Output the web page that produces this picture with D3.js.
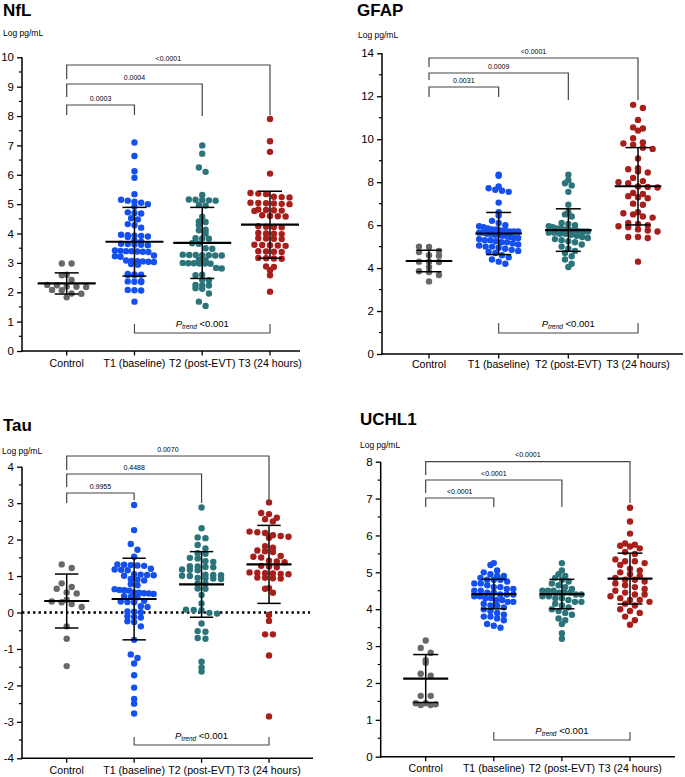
<!DOCTYPE html>
<html><head><meta charset="utf-8">
<script src="https://cdn.jsdelivr.net/npm/d3@7"></script>
<style>body{margin:0;background:#fff}svg{display:block}text{font-family:"Liberation Sans",Arial,Helvetica,sans-serif}</style>
</head><body>
<svg id="chart" width="685" height="777"></svg>
<script>
// ---------- DATA ----------
const categories = ["Control", "T1 (baseline)", "T2 (post-EVT)", "T3 (24 hours)"];
const groupColors = ["#686868", "#1450f0", "#2a747a", "#a81e1b"];

// NfL
const nflControl = [2.98, 2.98, 2.6, 2.58, 2.42, 2.25, 2.24, 2.2, 2.19, 2.18, 2.08, 2.07, 1.96, 1.95, 1.83];
const nflT1 = [7.1, 6.64, 6.12, 5.9, 5.34, 5.15, 5.12, 5.08, 5.05, 5.0, 4.92, 4.72, 4.7, 4.68, 4.52, 4.48, 4.32, 4.28, 4.2, 3.96, 3.94, 3.93, 3.92, 3.9, 3.88, 3.76, 3.72, 3.65, 3.64, 3.63, 3.62, 3.6, 3.42, 3.41, 3.4, 3.4, 3.39, 3.38, 3.37, 3.25, 3.23, 3.21, 3.08, 3.07, 3.06, 3.05, 3.04, 3.03, 2.96, 2.94, 2.62, 2.61, 2.6, 2.59, 2.58, 2.38, 2.37, 2.36, 2.35, 2.08, 2.07, 2.06, 1.68];
const nflT2 = [7.0, 6.72, 6.25, 6.1, 5.31, 5.16, 5.15, 5.14, 5.13, 5.12, 4.97, 4.95, 4.57, 4.41, 4.39, 4.29, 4.13, 4.11, 4.0, 3.84, 3.83, 3.82, 3.67, 3.65, 3.5, 3.48, 3.28, 3.27, 3.27, 3.26, 3.26, 3.25, 3.25, 3.1, 3.09, 3.0, 2.99, 2.99, 2.98, 2.98, 2.97, 2.83, 2.81, 2.6, 2.58, 2.43, 2.41, 2.25, 2.24, 2.23, 2.14, 2.12, 1.96, 1.68, 1.53];
const nflT3 = [7.9, 7.14, 6.78, 6.04, 5.38, 5.36, 5.34, 5.25, 5.24, 5.23, 5.05, 5.04, 5.03, 5.02, 5.01, 5.0, 4.82, 4.8, 4.79, 4.78, 4.77, 4.62, 4.6, 4.59, 4.58, 4.25, 4.23, 4.22, 4.21, 4.02, 4.0, 3.99, 3.98, 3.84, 3.83, 3.82, 3.81, 3.62, 3.61, 3.6, 3.59, 3.58, 3.4, 3.39, 3.38, 3.37, 3.17, 3.16, 3.15, 3.14, 2.88, 2.86, 2.75, 2.58, 2.02];
const nflMean = [2.30, 3.72, 3.68, 4.30];
const nflSD = [0.36, 1.17, 1.21, 1.14];
const nflP = ["0.0003", "0.0004", "<0.0001"];
const nflTicks = [0, 1, 2, 3, 4, 5, 6, 7, 8, 9, 10];

// GFAP
const gfapControl = [5.0, 4.98, 4.8, 4.75, 4.6, 4.58, 4.3, 4.3, 4.28, 4.05, 3.85, 3.82, 3.68, 3.38];
const gfapT1 = [8.35, 8.3, 7.8, 7.72, 7.65, 7.6, 7.55, 7.05, 6.6, 6.45, 6.2, 6.1, 6.0, 5.95, 5.9, 5.85, 5.8, 5.8, 5.75, 5.75, 5.7, 5.7, 5.7, 5.65, 5.65, 5.6, 5.6, 5.55, 5.55, 5.5, 5.5, 5.45, 5.4, 5.4, 5.35, 5.3, 5.3, 5.25, 5.2, 5.2, 5.15, 5.1, 5.05, 5.0, 5.0, 4.95, 4.9, 4.85, 4.8, 4.75, 4.7, 4.6, 4.5, 4.4, 4.3, 4.2];
const gfapT2 = [8.35, 8.1, 7.95, 7.85, 7.55, 6.95, 6.6, 6.5, 6.4, 6.1, 6.05, 6.0, 5.95, 5.9, 5.85, 5.85, 5.8, 5.8, 5.75, 5.75, 5.7, 5.7, 5.7, 5.65, 5.65, 5.6, 5.6, 5.55, 5.5, 5.45, 5.4, 5.35, 5.3, 5.25, 5.2, 5.1, 5.0, 4.9, 4.8, 4.7, 4.55, 4.4, 4.2, 4.05];
const gfapT3 = [11.6, 11.45, 10.9, 10.55, 10.5, 10.4, 10.05, 9.85, 9.8, 9.75, 9.6, 9.55, 9.1, 8.65, 8.6, 8.5, 8.45, 8.2, 8.05, 8.0, 7.95, 7.8, 7.78, 7.75, 7.5, 7.45, 7.35, 7.3, 7.25, 7.0, 6.95, 6.6, 6.55, 6.5, 6.4, 6.35, 6.1, 6.05, 6.0, 5.95, 5.9, 5.8, 5.75, 5.7, 5.45, 5.45, 5.4, 4.3];
const gfapMean = [4.33, 5.61, 5.77, 7.81];
const gfapSD = [0.5, 0.98, 0.99, 1.8];
const gfapP = ["0.0031", "0.0009", "<0.0001"];
const gfapTicks = [0, 2, 4, 6, 8, 10, 12, 14];

// Tau
const tauControl = [1.32, 1.22, 0.8, 0.7, 0.65, 0.55, 0.52, 0.35, 0.3, 0.28, 0.23, 0.15, -0.38, -0.72, -1.47];
const tauT1 = [2.95, 2.26, 1.88, 1.72, 1.53, 1.32, 1.31, 1.3, 1.29, 1.28, 1.2, 1.18, 1.17, 1.16, 1.05, 1.04, 1.03, 1.02, 1.01, 0.92, 0.9, 0.88, 0.78, 0.75, 0.64, 0.62, 0.61, 0.6, 0.55, 0.54, 0.53, 0.52, 0.51, 0.45, 0.43, 0.42, 0.32, 0.3, 0.29, 0.28, 0.17, 0.15, 0.03, 0.02, 0.01, -0.1, -0.12, -0.14, -0.24, -0.26, -0.38, -0.75, -1.15, -1.25, -1.4, -1.72, -2.06, -2.37, -2.5, -2.77];
const tauT2 = [2.88, 2.31, 2.06, 2.04, 1.85, 1.76, 1.63, 1.61, 1.5, 1.48, 1.41, 1.39, 1.27, 1.26, 1.25, 1.24, 1.18, 1.17, 1.16, 1.04, 1.03, 1.02, 1.01, 1.0, 0.95, 0.94, 0.93, 0.92, 0.8, 0.79, 0.66, 0.65, 0.48, 0.25, 0.08, 0.07, 0.06, -0.01, -0.03, -0.3, -0.51, -0.53, -0.7, -0.72, -1.35, -1.51, -1.62];
const tauT3 = [3.02, 2.73, 2.7, 2.6, 2.56, 2.5, 2.22, 2.2, 2.18, 2.12, 2.1, 2.08, 2.05, 1.82, 1.78, 1.7, 1.68, 1.66, 1.55, 1.53, 1.51, 1.42, 1.4, 1.38, 1.28, 1.26, 1.24, 1.1, 1.09, 1.08, 1.07, 1.06, 1.05, 0.96, 0.95, 0.94, 0.93, 0.67, 0.65, 0.54, -0.07, -0.23, -0.6, -0.6, -1.18, -2.85];
const tauMean = [0.315, 0.37, 0.77, 1.32];
const tauSD = [0.74, 1.12, 0.9, 1.07];
const tauP = ["0.9955", "0.4488", "0.0070"];
const tauTicks = [-4, -3, -2, -1, 0, 1, 2, 3, 4];

// UCHL1
const uchControl = [3.15, 2.95, 2.82, 2.62, 2.55, 2.25, 2.2, 1.65, 1.65, 1.45, 1.45, 1.42, 1.4, 1.4];
const uchT1 = [5.25, 5.2, 5.05, 5.0, 4.95, 4.9, 4.9, 4.85, 4.8, 4.8, 4.8, 4.75, 4.7, 4.7, 4.65, 4.6, 4.6, 4.55, 4.55, 4.5, 4.5, 4.45, 4.45, 4.4, 4.4, 4.4, 4.35, 4.35, 4.3, 4.3, 4.25, 4.25, 4.2, 4.2, 4.15, 4.1, 4.1, 4.05, 4.0, 3.95, 3.9, 3.85, 3.8, 3.8, 3.75, 3.7, 3.6, 3.55, 3.5];
const uchT2 = [5.25, 5.05, 4.95, 4.9, 4.85, 4.8, 4.75, 4.7, 4.65, 4.6, 4.55, 4.5, 4.5, 4.5, 4.45, 4.45, 4.45, 4.4, 4.4, 4.35, 4.35, 4.3, 4.3, 4.25, 4.2, 4.2, 4.15, 4.1, 4.05, 4.0, 3.95, 3.9, 3.85, 3.75, 3.7, 3.6, 3.35, 3.2];
const uchT3 = [6.75, 6.38, 6.05, 5.78, 5.75, 5.72, 5.7, 5.65, 5.55, 5.5, 5.35, 5.3, 5.3, 5.25, 5.2, 5.1, 5.05, 5.0, 4.95, 4.9, 4.85, 4.8, 4.8, 4.75, 4.7, 4.65, 4.6, 4.55, 4.5, 4.45, 4.4, 4.4, 4.35, 4.3, 4.25, 4.25, 4.2, 4.15, 4.1, 4.0, 3.95, 3.9, 3.8, 3.7, 3.58];
const uchMean = [2.12, 4.41, 4.41, 4.83];
const uchSD = [0.65, 0.4, 0.4, 0.69];
const uchP = ["<0.0001", "<0.0001", "<0.0001"];
const uchTicks = [0, 1, 2, 3, 4, 5, 6, 7, 8];

const trendLabel = "<0.001";
const unitLabel = "Log pg/mL";

// ---------- LAYOUT ----------
const panels = [
  { title: "NfL", groups: [nflControl, nflT1, nflT2, nflT3], mean: nflMean, sd: nflSD, p: nflP, ticks: nflTicks, minorStep: 0.5,
    L: { axisX: 22, yRange: [351, 57.3], xRange: [66.7, 270], xEnd: 300, titleXY: [3, 16], unitXY: [3, 36], labelY: 366.5,
         meanHalf: 29, capHalf: 12, brH: [105, 84, 65], brL: [115, 97, 79], brR: [115, 116, 115], trendH: 333, trendTop: 324 } },
  { title: "GFAP", groups: [gfapControl, gfapT1, gfapT2, gfapT3], mean: gfapMean, sd: gfapSD, p: gfapP, ticks: gfapTicks, minorStep: 1,
    L: { axisX: 382, yRange: [354, 53.3], xRange: [429, 638], xEnd: 683, titleXY: [357, 16], unitXY: [358, 38], labelY: 368,
         meanHalf: 23.3, capHalf: 12.5, brH: [87, 73, 58], brL: [97, 80, 67], brR: [97, 100, 100], trendH: 333, trendTop: 323 } },
  { title: "Tau", groups: [tauControl, tauT1, tauT2, tauT3], mean: tauMean, sd: tauSD, p: tauP, ticks: tauTicks, minorStep: 0.5, zeroLine: true,
    L: { axisX: 22, yRange: [758.3, 466.7], xRange: [66.7, 269], xEnd: 313, titleXY: [3, 431], unitXY: [2, 454], labelY: 774,
         meanHalf: 22.5, capHalf: 11.7, brH: [493, 474, 456], brL: [503, 487, 470], brR: [500, 503, 503], trendH: 745, trendTop: 737 } },
  { title: "UCHL1", groups: [uchControl, uchT1, uchT2, uchT3], mean: uchMean, sd: uchSD, p: uchP, ticks: uchTicks, minorStep: 0.5,
    L: { axisX: 380.7, yRange: [756.7, 461.7], xRange: [425.7, 630], xEnd: 675, titleXY: [360, 425], unitXY: [360, 448], labelY: 772,
         meanHalf: 22.5, capHalf: 12.5, brH: [498, 480, 461.7], brL: [507, 493, 475], brR: [507, 507, 503], trendH: 740, trendTop: 732 } }
];

const R = 3.2;
const svg = d3.select("#chart");

// Prism-like row layout: points binned by pixel height, each row spread side by side
function rows(vals, y, r, maxHalf, top) {
  const binH = 2 * r;
  const pts = vals.map(v => ({ v, y: y(v) }));
  const bins = d3.group(pts, p => Math.floor((p.y - top) / binH));
  const maxN = d3.max(Array.from(bins.values()), a => a.length);
  const base = maxN > 1 ? Math.min(10, Math.max(2 * r + 0.3, 2 * maxHalf / (maxN - 1))) : 2 * r + 0.3;
  for (const [, arr] of bins) {
    arr.sort((a, b) => a.y - b.y);
    const n = arr.length;
    let sp = base;
    if (n > 1 && (n - 1) * sp / 2 > maxHalf) sp = 2 * maxHalf / (n - 1);
    arr.forEach((p, i) => { p.x = (i - (n - 1) / 2) * sp; });
  }
  return pts;
}

panels.forEach(P => {
  const L = P.L;
  const dom = d3.extent(P.ticks);
  const y = d3.scaleLinear().domain(dom).range(L.yRange);
  const x = d3.scalePoint().domain(categories).range(L.xRange);
  const g = svg.append("g");

  g.append("text").attr("x", L.titleXY[0]).attr("y", L.titleXY[1]).attr("font-size", 17).attr("font-weight", "bold").text(P.title);
  g.append("text").attr("x", L.unitXY[0]).attr("y", L.unitXY[1]).attr("font-size", 8.5).text(unitLabel);

  if (P.zeroLine) {
    g.append("line").attr("x1", L.axisX).attr("x2", L.xEnd - 3).attr("y1", y(0)).attr("y2", y(0))
      .attr("stroke", "#000").attr("stroke-width", 2.4).attr("stroke-dasharray", "2.4,3.1");
  }

  P.groups.forEach((vals, gi) => {
    const pts = rows(vals, y, R, 19.5, L.yRange[1]);
    const cx = x(categories[gi]);
    g.append("g").selectAll("circle").data(pts).join("circle")
      .attr("cx", d => cx + d.x).attr("cy", d => d.y).attr("r", R).attr("fill", groupColors[gi]);
  });

  P.mean.forEach((m, gi) => {
    const cx = x(categories[gi]);
    const hi = m + P.sd[gi], lo = m - P.sd[gi];
    const eg = g.append("g").attr("stroke", "#000");
    eg.append("line").attr("x1", cx).attr("x2", cx).attr("y1", y(hi)).attr("y2", y(lo)).attr("stroke-width", 1.5);
    eg.append("line").attr("x1", cx - L.capHalf).attr("x2", cx + L.capHalf).attr("y1", y(hi)).attr("y2", y(hi)).attr("stroke-width", 1.5);
    eg.append("line").attr("x1", cx - L.capHalf).attr("x2", cx + L.capHalf).attr("y1", y(lo)).attr("y2", y(lo)).attr("stroke-width", 1.5);
    eg.append("line").attr("x1", cx - L.meanHalf).attr("x2", cx + L.meanHalf).attr("y1", y(m)).attr("y2", y(m)).attr("stroke-width", 2.2);
  });

  const yAxis = d3.axisLeft(y).tickValues(P.ticks).tickSize(5).tickPadding(3).tickFormat(d => String(d));
  const ya = g.append("g").attr("transform", `translate(${L.axisX},0)`).call(yAxis);
  ya.select(".domain").remove();
  ya.selectAll("line").attr("stroke-width", 1.3);
  ya.selectAll("text").attr("font-size", 11.5).attr("font-family", '"Liberation Sans",Arial,sans-serif').attr("fill", "#000");
  const minors = d3.range(dom[0], dom[1] + 1e-9, P.minorStep).filter(v => !P.ticks.includes(+v.toFixed(6)));
  g.append("g").selectAll("line").data(minors).join("line")
    .attr("x1", L.axisX - 3).attr("x2", L.axisX).attr("y1", d => y(d)).attr("y2", d => y(d))
    .attr("stroke", "#000").attr("stroke-width", 1.2);
  g.append("line").attr("x1", L.axisX).attr("x2", L.axisX).attr("y1", y(dom[0]) + 0.7).attr("y2", y(dom[1]))
    .attr("stroke", "#000").attr("stroke-width", 1.5);

  const yb = y(dom[0]);
  g.append("line").attr("x1", L.axisX - 0.7).attr("x2", L.xEnd).attr("y1", yb).attr("y2", yb).attr("stroke", "#000").attr("stroke-width", 1.5);
  g.append("g").selectAll("line").data(categories).join("line")
    .attr("x1", d => x(d)).attr("x2", d => x(d)).attr("y1", yb).attr("y2", yb + 4.5).attr("stroke", "#000").attr("stroke-width", 1.3);
  g.append("g").selectAll("text").data(categories).join("text")
    .attr("x", d => x(d)).attr("y", L.labelY).attr("text-anchor", "middle").attr("font-size", 10.6).text(d => d);

  const x0 = x(categories[0]);
  P.p.forEach((lab, i) => {
    const xt = x(categories[i + 1]);
    g.append("path").attr("d", `M${x0},${L.brL[i]}V${L.brH[i]}H${xt}V${L.brR[i]}`)
      .attr("fill", "none").attr("stroke", "#444").attr("stroke-width", 1.2);
    g.append("text").attr("x", (x0 + xt) / 2).attr("y", L.brH[i] - 4.5).attr("text-anchor", "middle").attr("font-size", 7).text(lab);
  });

  const x1 = x(categories[1]), x3 = x(categories[3]);
  g.append("path").attr("d", `M${x1},${L.trendTop}V${L.trendH}H${x3}V${L.trendTop}`)
    .attr("fill", "none").attr("stroke", "#444").attr("stroke-width", 1.1);
  const t = g.append("text").attr("x", x(categories[2])).attr("y", L.trendH - 6).attr("text-anchor", "middle").attr("font-size", 9.5);
  t.append("tspan").attr("font-style", "italic").text("P");
  t.append("tspan").attr("font-style", "italic").attr("font-size", 6.5).attr("dy", 2).text("trend");
  t.append("tspan").attr("dy", -2).text(" " + trendLabel);
});
</script>
</body></html>
